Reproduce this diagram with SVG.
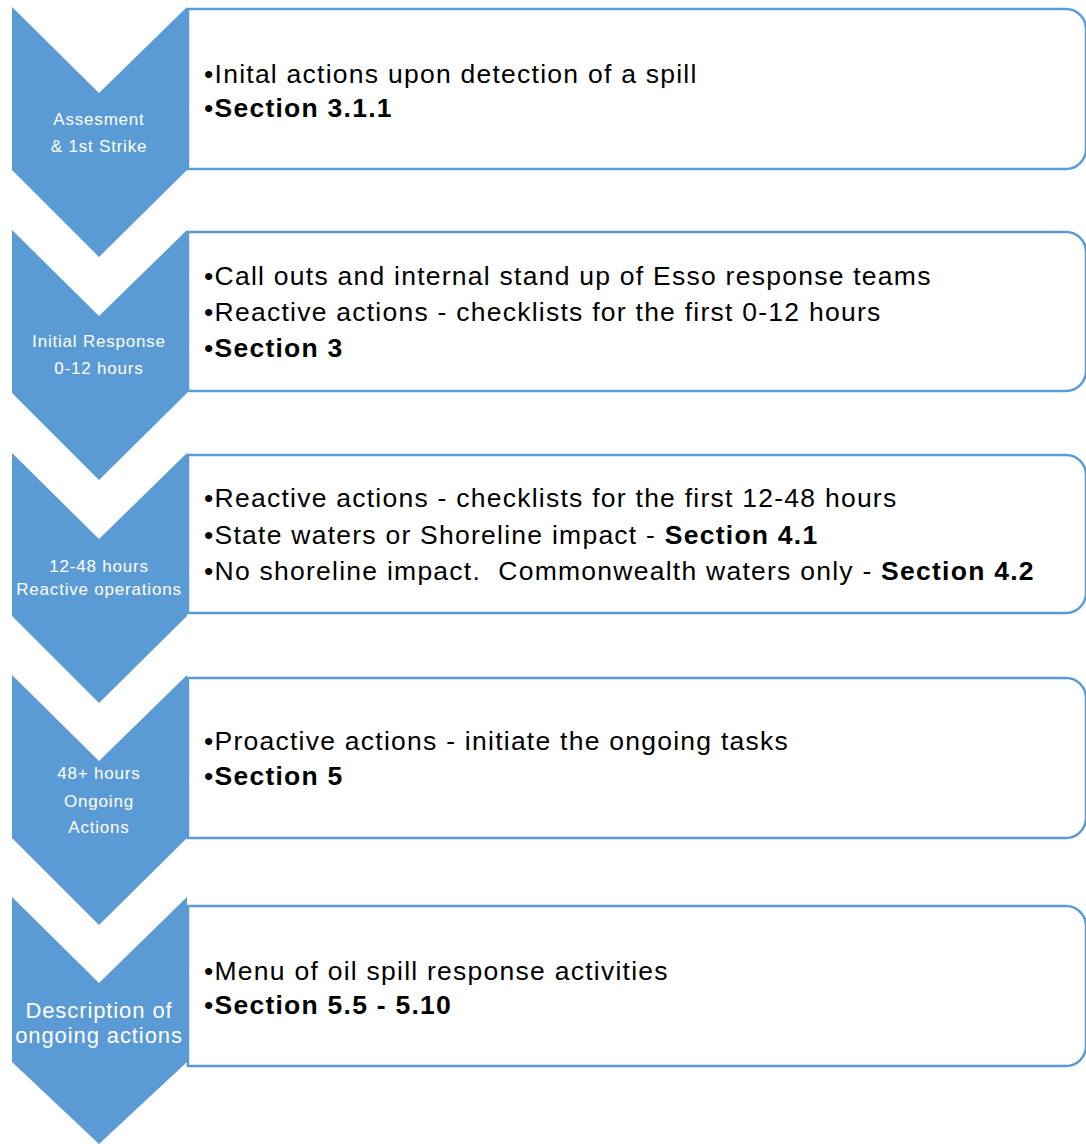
<svg xmlns="http://www.w3.org/2000/svg" width="1086" height="1144" viewBox="0 0 1086 1144">
<style>
.box{fill:#fff;stroke:#5B9BD5;stroke-width:2.5}
.chev{fill:#5B9BD5}
.ct{font-family:"Liberation Sans",Arial,sans-serif;font-size:17px;fill:#fff;text-anchor:middle;letter-spacing:0.8px}
.ct2{font-family:"Liberation Sans",Arial,sans-serif;font-size:22px;fill:#fff;text-anchor:middle;letter-spacing:0.9px}
.bt{font-family:"Liberation Sans",Arial,sans-serif;font-size:26.5px;fill:#000;letter-spacing:1.25px;white-space:pre}
.b{font-weight:bold}
</style>
<rect width="1086" height="1144" fill="#fff"/>
<g id="node1">
<path class="box" d="M188,9 H1066 A20,20 0 0 1 1086,29 V149 A20,20 0 0 1 1066,169 H188 Z"/>
<polygon class="chev" points="12,7 99,93 187,7 187,170 99,257 12,170"/>
<text class="ct" x="99" y="125">Assesment</text>
<text class="ct" x="99" y="152">&amp; 1st Strike</text>
<text class="bt" x="204" y="82.5">•Inital actions upon detection of a spill</text>
<text class="bt" x="204" y="116.5">•<tspan class="b">Section 3.1.1</tspan></text>
</g>
<g id="node2">
<path class="box" d="M188,232 H1066 A20,20 0 0 1 1086,252 V371 A20,20 0 0 1 1066,391 H188 Z"/>
<polygon class="chev" points="12,230 99,316 187,230 187,393 99,480 12,393"/>
<text class="ct" x="99" y="347">Initial Response</text>
<text class="ct" x="99" y="374">0-12 hours</text>
<text class="bt" x="204" y="284.5">•Call outs and internal stand up of Esso response teams</text>
<text class="bt" x="204" y="321">•Reactive actions - checklists for the first 0-12 hours</text>
<text class="bt" x="204" y="356.5">•<tspan class="b">Section 3</tspan></text>
</g>
<g id="node3">
<path class="box" d="M188,455 H1066 A20,20 0 0 1 1086,475 V593 A20,20 0 0 1 1066,613 H188 Z"/>
<polygon class="chev" points="12,453 99,539 187,453 187,616 99,703 12,616"/>
<text class="ct" x="99" y="572">12-48 hours</text>
<text class="ct" x="99" y="594.5">Reactive operations</text>
<text class="bt" x="204" y="506.5">•Reactive actions - checklists for the first 12-48 hours</text>
<text class="bt" x="204" y="543.5">•State waters or Shoreline impact - <tspan class="b">Section 4.1</tspan></text>
<text class="bt" x="204" y="579.5" xml:space="preserve">•No shoreline impact.  Commonwealth waters only - <tspan class="b">Section 4.2</tspan></text>
</g>
<g id="node4">
<path class="box" d="M188,678 H1066 A20,20 0 0 1 1086,698 V818 A20,20 0 0 1 1066,838 H188 Z"/>
<polygon class="chev" points="12,675 99,761 187,675 187,838 99,925 12,838"/>
<text class="ct" x="99" y="779">48+ hours</text>
<text class="ct" x="99" y="807">Ongoing</text>
<text class="ct" x="99" y="833">Actions</text>
<text class="bt" x="204" y="749.5">•Proactive actions - initiate the ongoing tasks</text>
<text class="bt" x="204" y="784.5">•<tspan class="b">Section 5</tspan></text>
</g>
<g id="node5">
<path class="box" d="M188,906 H1066 A20,20 0 0 1 1086,926 V1046 A20,20 0 0 1 1066,1066 H188 Z"/>
<polygon class="chev" points="12,897 99,983 187,897 187,1062 99,1144 12,1062"/>
<text class="ct2" x="99" y="1018">Description of</text>
<text class="ct2" x="99" y="1043">ongoing actions</text>
<text class="bt" x="204" y="979.5">•Menu of oil spill response activities</text>
<text class="bt" x="204" y="1013.5">•<tspan class="b">Section 5.5 - 5.10</tspan></text>
</g>
<g id="connectors"></g>
</svg>
